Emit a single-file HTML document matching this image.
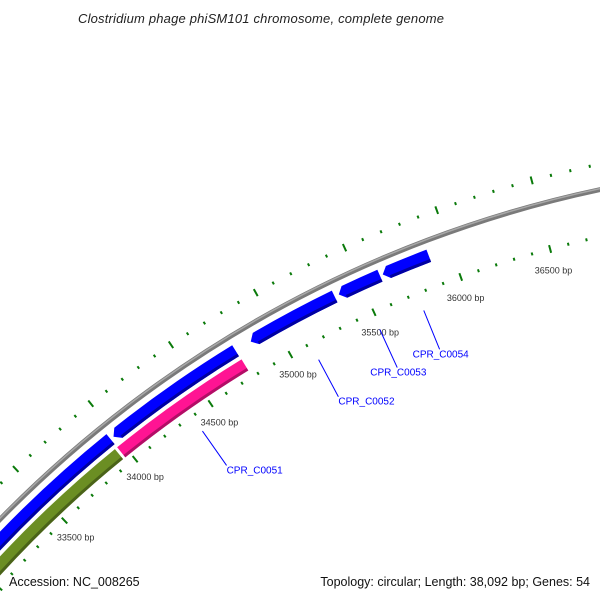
<!DOCTYPE html>
<html><head><meta charset="utf-8">
<style>
html,body{margin:0;padding:0;background:#fff;width:600px;height:600px;overflow:hidden;}
svg{display:block;font-family:"Liberation Sans",sans-serif;overflow:hidden;}
</style></head>
<body>
<svg id="map" width="600" height="600" viewBox="0 0 600 600" xmlns="http://www.w3.org/2000/svg">
<defs><clipPath id="frame"><rect x="0" y="0" width="600" height="600"/></clipPath></defs>
<text x="261" y="23" text-anchor="middle" font-size="13" font-style="italic" fill="#222" textLength="366">Clostridium phage phiSM101 chromosome, complete genome</text>
<g clip-path="url(#frame)">
<g id="rings"></g>
<g id="ticks"></g>
<g id="genes"></g>
<g id="labels"></g>
</g>
<text x="9" y="586" font-size="12.5" fill="#111">Accession: NC_008265</text>
<text x="590" y="586" text-anchor="end" font-size="12.5" fill="#111">Topology: circular; Length: 38,092 bp; Genes: 54</text>
</svg>
<script>
const genomeLength = 38092;
const fwdGeneNames = ["gene-a","CPR_C0051b","CPR_C0052","CPR_C0053","CPR_C0054"];
const fwdGeneStarts = [31500, 33985, 34853, 35372, 35623];
const fwdGeneEnds   = [33965, 34761, 35348, 35607, 35881];
const revFeatNames = ["olive-feature","CPR_C0051"];
const revFeatStarts = [31500, 33965];
const revFeatEnds   = [33950, 34764];
const revFeatColors = ["#6b8e23","#ff1493"];
const tickLabels = [33500,34000,34500,35000,35500,36000,36500];
const geneLabelNames = ["CPR_C0051","CPR_C0052","CPR_C0053","CPR_C0054"];
const geneLabelBp = [34380, 35120, 35490, 35750];

const NS="http://www.w3.org/2000/svg";
const CX=845, CY=1346;
const R_GREY=1182, R_FWD=1167, R_REV=1150, R_TICK_OUT=1207, R_TICK_IN=1136;
function ang(bp){return bp/genomeLength*2*Math.PI;}
function pt(bp,r){const a=ang(bp);return [CX+r*Math.sin(a), CY-r*Math.cos(a)];}
function arcPath(b1,b2,r){const p1=pt(b1,r),p2=pt(b2,r);const large=(b2-b1)/genomeLength>0.5?1:0;
 return `M${p1[0].toFixed(2)},${p1[1].toFixed(2)} A${r},${r} 0 ${large} 1 ${p2[0].toFixed(2)},${p2[1].toFixed(2)}`;}
function mk(tag,attrs,parent){const e=document.createElementNS(NS,tag);for(const k in attrs)e.setAttribute(k,attrs[k]);parent.appendChild(e);return e;}

const rings=document.getElementById('rings');
let g1=mk('path',{d:arcPath(31000,37500,R_GREY),fill:'none',stroke:'#7a7a7a','stroke-width':5},rings);


let g2=mk('path',{d:arcPath(31000,37500,R_GREY+1),fill:'none',stroke:'#a8a8a8','stroke-width':1.5},rings);



const ticks=document.getElementById('ticks');
for(let bp=31000;bp<=37500;bp+=100){
 const major=bp%500===0;
 const len=major?8:3;
 for(const r of [R_TICK_OUT,R_TICK_IN]){
  const p1=pt(bp,r-len/2),p2=pt(bp,r+len/2);
  const l=mk('line',{x1:p1[0],y1:p1[1],x2:p2[0],y2:p2[1],stroke:'#0a7a0a','stroke-width':2},ticks);
  
  
 }
}
tickLabels.forEach(bp=>{
 const p=pt(bp,1118);
 const t=mk('text',{x:p[0]-20,y:p[1]+7,'font-size':9,fill:'#333'},ticks);
 t.textContent=bp+' bp';
 
 
});

const genes=document.getElementById('genes');
const W=13, headBp=32;
function bandPoly(b1,b2,r,arrow){
 const ro=r+W/2, ri=r-W/2;
 const s=arrow?b1+headBp:b1;
 const a=pt(s,ro),b=pt(b2,ro),c=pt(b2,ri),d=pt(s,ri);
 let dstr=`M${a[0]},${a[1]} A${ro},${ro} 0 0 1 ${b[0]},${b[1]} L${c[0]},${c[1]} A${ri},${ri} 0 0 0 ${d[0]},${d[1]}`;
 if(arrow){const tip=pt(b1,r);dstr+=` L${tip[0]},${tip[1]}`;}
 return dstr+' Z';
}
fwdGeneStarts.forEach((s,i)=>{
 const p=mk('path',{d:bandPoly(s,fwdGeneEnds[i],R_FWD,true),fill:'#0000ff'},genes);
 
 
 const sh=mk('path',{d:arcPath(s+headBp,fwdGeneEnds[i],R_FWD-W/2+1.5),fill:'none',stroke:'#0000a0','stroke-width':3},genes);
 
 
});
revFeatStarts.forEach((s,i)=>{
 const p=mk('path',{d:bandPoly(s,revFeatEnds[i],R_REV,false),fill:revFeatColors[i]},genes);
 
 
 const sh=mk('path',{d:arcPath(s,revFeatEnds[i],R_REV-W/2+1.5),fill:'none',stroke:'rgba(0,0,0,0.3)','stroke-width':3},genes);
 
 
});

const labels=document.getElementById('labels');
geneLabelNames.forEach((n,i)=>{
 const bp=geneLabelBp[i];
 const p1=pt(bp,1118), p2=pt(bp,1076);
 const l=mk('line',{x1:p1[0],y1:p1[1],x2:p2[0],y2:p2[1],stroke:'#0000ff','stroke-width':1},labels);
 
 
 const t=mk('text',{x:p2[0]-(i>=2?27:0),y:p2[1]+8,'font-size':10,fill:'#0000ff'},labels);
 t.textContent=n;
 
 
});
</script>
</body></html>
